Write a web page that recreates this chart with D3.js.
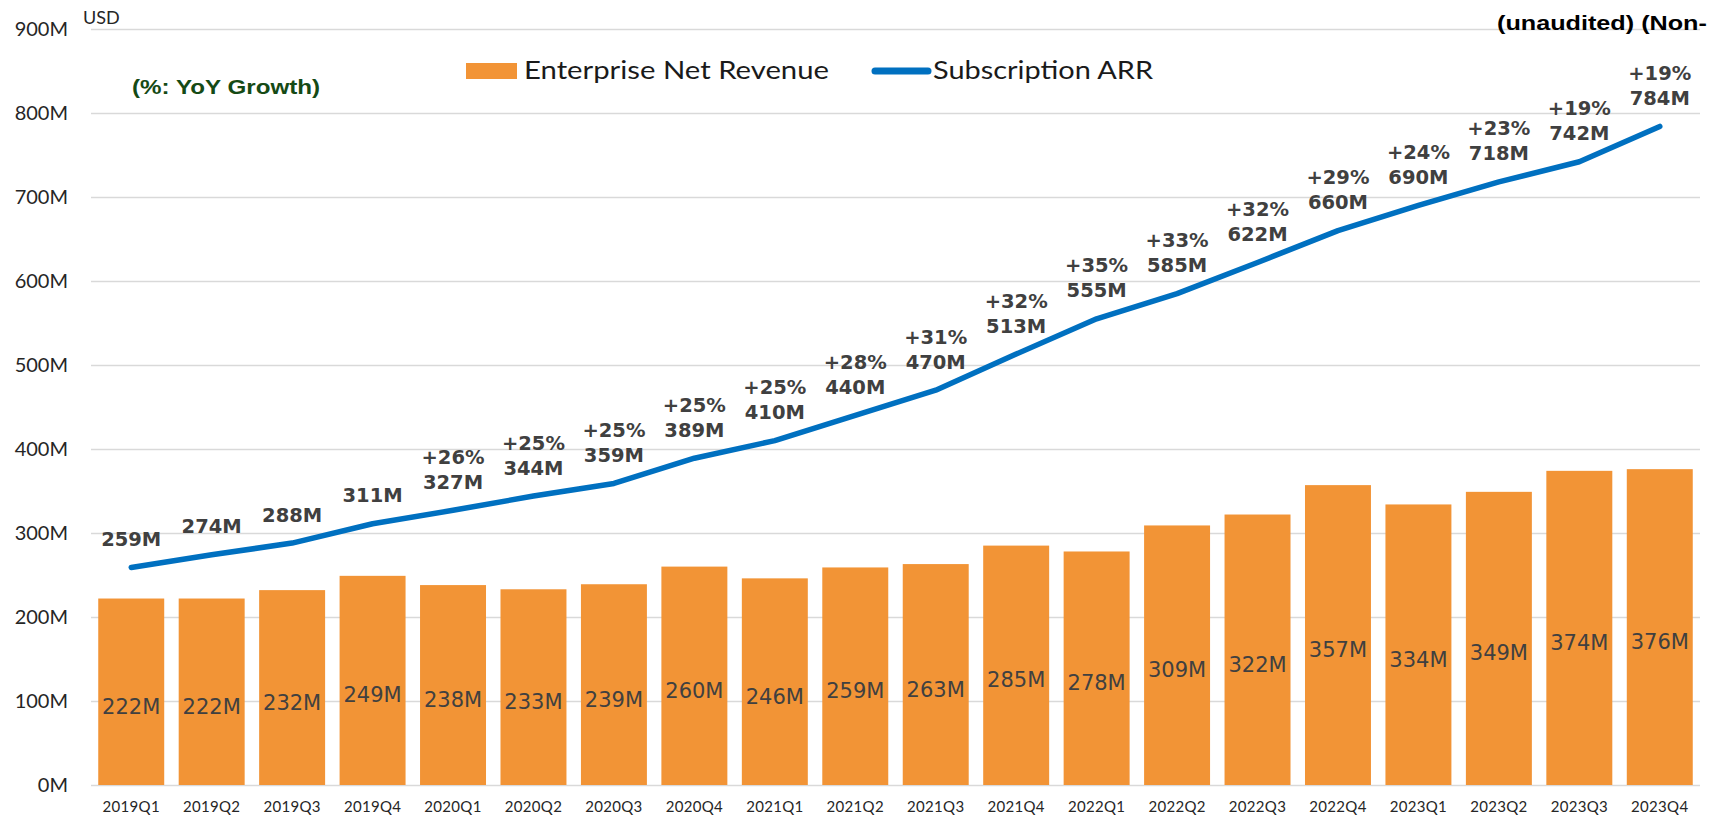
<!DOCTYPE html>
<html>
<head>
<meta charset="utf-8">
<script src="https://cdn.jsdelivr.net/npm/d3@7"></script>
<style>
  html, body { margin: 0; padding: 0; background: #fff; overflow: hidden; }
  svg { display: block; }
</style>
</head>
<body>
<svg id="chart" width="1710" height="816"></svg>
<script>
const categories = ["2019Q1","2019Q2","2019Q3","2019Q4","2020Q1","2020Q2","2020Q3","2020Q4",
  "2021Q1","2021Q2","2021Q3","2021Q4","2022Q1","2022Q2","2022Q3","2022Q4",
  "2023Q1","2023Q2","2023Q3","2023Q4"];
const revenue = [222,222,232,249,238,233,239,260,246,259,263,285,278,309,322,357,334,349,374,376];
const arr = [259,274,288,311,327,344,359,389,410,440,470,513,555,585,622,660,690,718,742,784];
const yoyGrowth = [null,null,null,null,26,25,25,25,25,28,31,32,35,33,32,29,24,23,19,19];
const yTicks = [0,100,200,300,400,500,600,700,800,900];

const svg = d3.select("#chart");
const plotL = 91, plotR = 1700, plotT = 29, plotB = 785;

const x = d3.scaleBand().domain(categories).range([plotL, plotR]).paddingInner(0.18).paddingOuter(0.09);
const y = d3.scaleLinear().domain([0, 900]).range([plotB, plotT]);

// gridlines
const yAxis = d3.axisLeft(y).tickValues(yTicks).tickSize(-(plotR - plotL)).tickFormat(d => d + "M");
const gy = svg.append("g").attr("transform", `translate(${plotL},0)`).call(yAxis);
gy.select(".domain").remove();
gy.selectAll(".tick line").attr("stroke", "#d9d9d9").attr("stroke-width", 1.5);
gy.selectAll(".tick text").attr("x", -23).attr("fill", "#262626")
  .style("font-family", "Lato, sans-serif").style("font-size", "20px");

// bars
svg.append("g").selectAll("rect").data(revenue).join("rect")
  .attr("x", (d, i) => x(categories[i]))
  .attr("y", d => y(d))
  .attr("width", x.bandwidth())
  .attr("height", d => y(0) - y(d))
  .attr("fill", "#f29436");

// bar labels
svg.append("g").selectAll("text").data(revenue).join("text")
  .attr("x", (d, i) => x(categories[i]) + x.bandwidth() / 2)
  .attr("y", d => y(d / 2) + 15)
  .attr("text-anchor", "middle").attr("dominant-baseline", "central")
  .attr("fill", "#404040")
  .style("font-family", "'DejaVu Sans', sans-serif").style("font-size", "21px")
  .text(d => d + "M");

// x axis labels
const xAxis = d3.axisBottom(x).tickSize(0).tickPadding(0);
const gx = svg.append("g").attr("transform", `translate(0,${plotB})`).call(xAxis);
gx.select(".domain").remove();
gx.selectAll(".tick text").attr("y", 27).attr("dy", 0).attr("fill", "#262626")
  .style("font-family", "Lato, sans-serif").style("font-size", "15px").style("letter-spacing", "0.3px");

// line
const line = d3.line()
  .x((d, i) => x(categories[i]) + x.bandwidth() / 2)
  .y(d => y(d));
svg.append("path").datum(arr)
  .attr("d", line).attr("fill", "none")
  .attr("stroke", "#0070c0").attr("stroke-width", 5.5)
  .attr("stroke-linejoin", "round").attr("stroke-linecap", "round");

// line labels
const lbl = svg.append("g")
  .style("font-family", "'DejaVu Sans', sans-serif").style("font-size", "19.5px").style("font-weight", "bold")
  .attr("fill", "#404040").attr("text-anchor", "middle");
lbl.selectAll("text.v").data(arr).join("text").attr("class", "v")
  .attr("x", (d, i) => x(categories[i]) + x.bandwidth() / 2)
  .attr("y", d => y(d) - 28).attr("dominant-baseline", "central")
  .text(d => d + "M");
lbl.selectAll("text.g").data(yoyGrowth).join("text").attr("class", "g")
  .attr("x", (d, i) => x(categories[i]) + x.bandwidth() / 2)
  .attr("y", (d, i) => y(arr[i]) - 53).attr("dominant-baseline", "central")
  .text(d => d === null ? "" : "+" + d + "%");

// USD
svg.append("text").attr("x", 83).attr("y", 24).attr("fill", "#262626")
  .style("font-family", "Lato, sans-serif").style("font-size", "18px").text("USD");

// YoY growth note
svg.append("text").attr("transform", "translate(132,94) scale(1.21,1)")
  .attr("fill", "#154a15")
  .style("font-family", "'Liberation Sans', Arial, sans-serif").style("font-size", "20px").style("font-weight", "bold")
  .text("(%: YoY Growth)");

// unaudited note
svg.append("text").attr("transform", "translate(1497,30) scale(1.2,1)")
  .attr("fill", "#000")
  .style("font-family", "'Liberation Sans', Arial, sans-serif").style("font-size", "21px").style("font-weight", "bold")
  .text("(unaudited) (Non-");

// legend
const lg = svg.append("g");
lg.append("rect").attr("x", 466).attr("y", 63).attr("width", 51).attr("height", 16).attr("fill", "#f29436");
lg.append("text").attr("x", 524).attr("y", 79).attr("fill", "#1a1a1a")
  .attr("textLength", 305).attr("lengthAdjust", "spacingAndGlyphs")
  .style("font-family", "Lato, sans-serif").style("font-size", "25px").text("Enterprise Net Revenue");
lg.append("line").attr("x1", 875).attr("x2", 928).attr("y1", 71).attr("y2", 71)
  .attr("stroke", "#0070c0").attr("stroke-width", 7).attr("stroke-linecap", "round");
lg.append("text").attr("x", 933).attr("y", 79).attr("fill", "#1a1a1a")
  .attr("textLength", 220).attr("lengthAdjust", "spacingAndGlyphs")
  .style("font-family", "Lato, sans-serif").style("font-size", "25px").text("Subscription ARR");
</script>
</body>
</html>
